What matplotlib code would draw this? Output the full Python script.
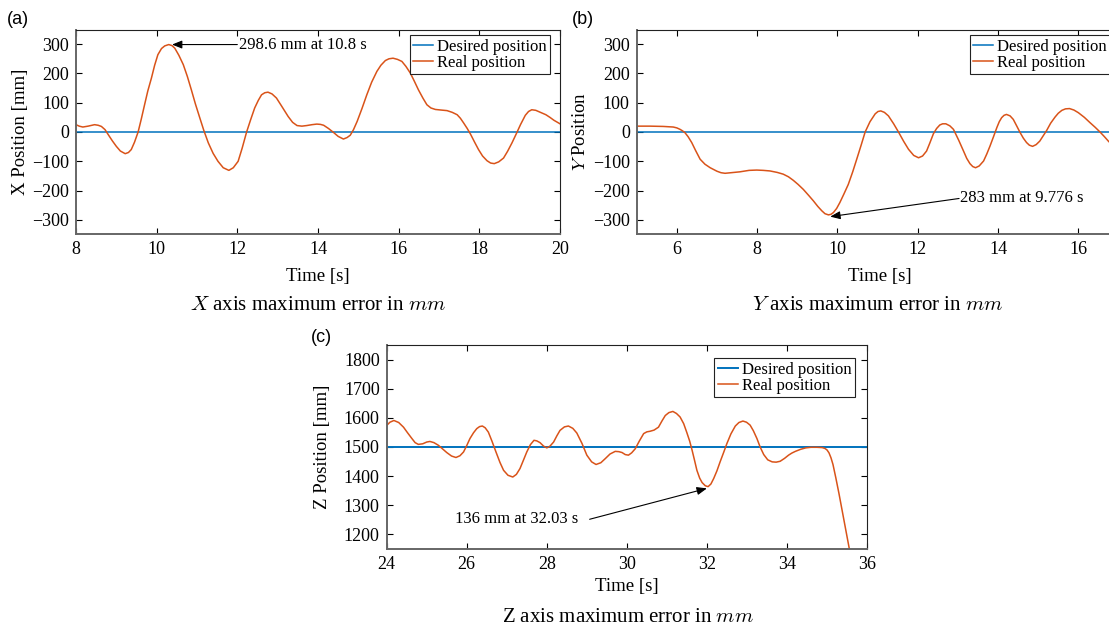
import matplotlib
matplotlib.use('Agg')
import matplotlib.pyplot as plt

# X axis run (a)
t_x = [8.00, 8.08, 8.17, 8.30, 8.46, 8.55, 8.63, 8.72, 8.79, 8.90, 9.00, 9.10,
       9.22, 9.30, 9.37, 9.45, 9.54, 9.62, 9.70, 9.78, 9.87, 9.95, 10.03, 10.12,
       10.20, 10.30, 10.38, 10.45, 10.55, 10.66, 10.76, 10.86, 10.96, 11.07,
       11.17, 11.28, 11.40, 11.52, 11.65, 11.79, 11.90, 12.02, 12.12, 12.23,
       12.33, 12.43, 12.52, 12.60, 12.68, 12.76, 12.86, 12.97, 13.10, 13.26,
       13.37, 13.48, 13.60, 13.72, 13.85, 13.97, 14.06, 14.14, 14.26, 14.38,
       14.50, 14.63, 14.72, 14.80, 14.88, 14.97, 15.09, 15.21, 15.33, 15.46,
       15.56, 15.67, 15.76, 15.86, 15.97, 16.08, 16.18, 16.29, 16.39, 16.49,
       16.60, 16.70, 16.80, 16.91, 17.05, 17.20, 17.33, 17.45, 17.53, 17.61,
       17.70, 17.78, 17.88, 17.98, 18.08, 18.19, 18.28, 18.37, 18.48, 18.60,
       18.70, 18.81, 18.92, 19.02, 19.14, 19.22, 19.30, 19.40, 19.50, 19.65,
       19.75, 19.85, 20.00]
x_real = [25, 20, 17, 20, 25, 23, 19, 8, -7, -30, -49, -65,
          -74, -70, -60, -35, 0, 45, 93, 140, 184, 228, 264, 285,
          294, 298.6, 295, 286, 262, 230, 190, 144, 96, 48,
          5, -37, -73, -100, -122, -131, -122, -100, -55, 0,
          42, 82, 108, 127, 134, 136, 130, 116, 88, 53,
          33, 22, 20, 22, 25, 27, 26, 23, 12, -1,
          -15, -24, -19, -11, 8, 36, 80, 127, 170, 207,
          228, 244, 250, 252, 248, 241, 224, 201, 173, 144,
          116, 93, 82, 77, 75, 73, 67, 59, 47, 31,
          12, -7, -34, -60, -82, -98, -106, -108, -102, -89,
          -66, -37, -5, 25, 57, 70, 76, 74, 68, 59,
          50, 40, 28]
t_x_des = [8, 20]
x_des = [0, 0]

# Y axis run (b)
t_y = [5.00, 5.33, 5.66, 5.91, 6.00, 6.08, 6.14, 6.20, 6.28, 6.37, 6.47, 6.58,
       6.70, 6.83, 7.00, 7.10, 7.20, 7.35, 7.57, 7.80, 7.99, 8.15, 8.32, 8.50,
       8.65, 8.78, 8.90, 9.02, 9.15, 9.28, 9.40, 9.51, 9.61, 9.69, 9.776, 9.84,
       9.90, 9.98, 10.06, 10.16, 10.27, 10.38, 10.48, 10.59, 10.69, 10.81,
       10.94, 11.01, 11.08, 11.17, 11.27, 11.40, 11.52, 11.65, 11.77, 11.90,
       12.02, 12.12, 12.22, 12.30, 12.39, 12.47, 12.55, 12.62, 12.70, 12.80,
       12.89, 13.02, 13.14, 13.22, 13.30, 13.37, 13.44, 13.53, 13.64, 13.72,
       13.80, 13.89, 13.97, 14.03, 14.09, 14.15, 14.21, 14.30, 14.38, 14.46,
       14.55, 14.63, 14.71, 14.78, 14.86, 14.95, 15.04, 15.12, 15.21, 15.31,
       15.42, 15.50, 15.59, 15.68, 15.78, 15.89, 16.00, 16.15, 16.29, 16.42,
       16.54, 16.65, 16.76, 16.93, 17.10]
y_real = [20, 20, 19, 17, 14, 9, 4, -2, -16, -36, -64, -93,
          -110, -122, -134, -139, -141, -139, -136, -131, -130, -131, -133, -138,
          -144, -153, -165, -179, -196, -216, -235, -254, -269, -279, -283, -281,
          -275, -261, -241, -212, -179, -136, -93, -45, 0, 35,
          62, 70, 72, 67, 55, 28, 0, -32, -59, -80,
          -88, -82, -65, -38, -6, 12, 24, 28, 28, 21,
          9, -28, -65, -90, -108, -118, -122, -116, -99, -75,
          -48, -15, 15, 35, 49, 57, 60, 55, 43, 22,
          -2, -21, -36, -45, -49, -43, -31, -14, 5, 30,
          51, 64, 74, 79, 80, 75, 66, 50, 32, 16,
          0, -16, -33, -52, -70]
t_y_des = [5, 17.1]
y_des = [0, 0]

# Z axis run (c)
t_z = [24.00, 24.08, 24.18, 24.30, 24.42, 24.52, 24.63, 24.71, 24.79, 24.90,
       25.00, 25.08, 25.18, 25.29, 25.40, 25.50, 25.62, 25.73, 25.83, 25.92,
       26.00, 26.08, 26.17, 26.25, 26.32, 26.39, 26.46, 26.54, 26.63, 26.73,
       26.83, 26.92, 27.03, 27.15, 27.24, 27.33, 27.42, 27.50, 27.59, 27.68,
       27.75, 27.83, 27.92, 28.00, 28.08, 28.17, 28.25, 28.33, 28.44, 28.54,
       28.65, 28.75, 28.88, 29.00, 29.12, 29.23, 29.35, 29.46, 29.58, 29.71,
       29.80, 29.88, 29.96, 30.04, 30.12, 30.21, 30.31, 30.42, 30.50, 30.58,
       30.68, 30.79, 30.88, 30.96, 31.05, 31.15, 31.24, 31.33, 31.42, 31.50,
       31.57, 31.63, 31.69, 31.75, 31.82, 31.88, 31.96, 32.03, 32.10, 32.17,
       32.25, 32.33, 32.42, 32.50, 32.60, 32.71, 32.80, 32.90, 32.99, 33.08,
       33.16, 33.25, 33.33, 33.42, 33.52, 33.63, 33.73, 33.83, 33.94, 34.04,
       34.12, 34.21, 34.34, 34.47, 34.60, 34.75, 34.88, 34.95, 35.00, 35.05,
       35.10, 35.15, 35.22, 35.30, 35.45, 35.60]
z_real = [1574, 1585, 1591, 1584, 1568, 1549, 1529, 1515, 1509, 1511,
          1517, 1519, 1515, 1506, 1493, 1481, 1469, 1464, 1470, 1483,
          1505, 1529, 1549, 1563, 1570, 1572, 1566, 1551, 1520, 1483,
          1447, 1420, 1403, 1397, 1406, 1426, 1456, 1483, 1508, 1523,
          1521, 1515, 1503, 1497, 1503, 1517, 1538, 1557, 1569, 1572,
          1564, 1548, 1512, 1472, 1449, 1440, 1446, 1460, 1476, 1485,
          1484, 1481, 1474, 1472, 1480, 1494, 1520, 1546, 1552, 1554,
          1558, 1568, 1590, 1608, 1618, 1622, 1615, 1603, 1580, 1549,
          1520, 1489, 1455, 1420, 1393, 1378, 1367, 1364, 1373, 1392,
          1418, 1449, 1482, 1512, 1545, 1572, 1584, 1589, 1585, 1575,
          1556, 1529, 1500, 1474, 1456, 1449, 1448, 1451, 1461, 1472,
          1479, 1485, 1492, 1497, 1499, 1499, 1498, 1495, 1490, 1480,
          1463, 1440, 1395, 1340, 1230, 1120]
t_z_des = [24, 36]
z_des = [1500, 1500]

# maximum error callouts
x_err, x_err_t = 298.6, 10.8
y_err, y_err_t = 283, 9.776
z_err, z_err_t = 136, 32.03

BLUE = '#0072BD'
ORANGE = '#D95319'

W, H = 1109, 629

plt.rcParams['font.family'] = ['Liberation Serif', 'DejaVu Serif']
plt.rcParams['mathtext.fontset'] = 'cm'


def px_axes(fig, left, top, width, height):
    return fig.add_axes([left/W, 1 - (top + height)/H, width/W, height/H])


def style_axes(ax):
    ax.tick_params(direction='in', top=True, right=True, length=4, width=0.8,
                   labelsize=13, pad=5)
    for side in ['left', 'bottom']:
        ax.spines[side].set_color('#666666')
        ax.spines[side].set_linewidth(1.4)
    for side in ['top', 'right']:
        ax.spines[side].set_color('#222222')
        ax.spines[side].set_linewidth(0.8)


def add_legend(ax, x0, y0):
    leg = ax.legend(loc='upper left', bbox_to_anchor=(x0, y0), borderaxespad=0,
                    fancybox=False, edgecolor='#222222', framealpha=1,
                    fontsize=12, handlelength=1.2, handletextpad=0.25,
                    borderpad=0.2, labelspacing=0.0)
    leg.get_frame().set_linewidth(0.8)


def callout(ax, text, tip, tail, pos, ha):
    ax.annotate('', xy=tip, xytext=tail,
                arrowprops=dict(arrowstyle='-|>,head_length=0.5,head_width=0.2',
                                color='k', lw=0.8, shrinkA=0, shrinkB=0,
                                mutation_scale=12))
    ax.text(pos[0], pos[1], text, ha=ha, va='center', fontsize=12)


def label_axes(ax, ylabel, xlab_y, ylab_x):
    ax.set_xlabel('Time [s]', fontsize=13.5)
    ax.xaxis.label.set_verticalalignment('center')
    ax.xaxis.set_label_coords(0.5, xlab_y)
    ax.set_ylabel(ylabel, fontsize=13.5)
    ax.yaxis.label.set_verticalalignment('center')
    ax.yaxis.set_label_coords(ylab_x, 0.5)


def main():
    fig = plt.figure(figsize=(W/100, H/100), dpi=100)

    # (a) X axis
    ax = px_axes(fig, 76, 29.5, 484, 205)
    ax.plot(t_x_des, x_des, color=BLUE, lw=1.1, label='Desired position')
    ax.plot(t_x, x_real, color=ORANGE, lw=1.1, label='Real position')
    ax.set_xlim(8, 20)
    ax.set_ylim(-350, 350)
    ax.set_xticks(range(8, 21, 2))
    ax.set_yticks(range(-300, 301, 100))
    style_axes(ax)
    label_axes(ax, 'X Position [mm]', -0.206, -0.1157)
    add_legend(ax, 0.690, 0.9717)
    callout(ax, f'{x_err} mm at {x_err_t} s', (10.38, x_err), (12.0, x_err),
            (12.03, x_err), 'left')

    # (b) Y axis
    ax = px_axes(fig, 636.7, 29.5, 485.8, 205)
    ax.plot(t_y_des, y_des, color=BLUE, lw=1.1, label='Desired position')
    ax.plot(t_y, y_real, color=ORANGE, lw=1.1, label='Real position')
    ax.set_xlim(5, 17.1)
    ax.set_ylim(-350, 350)
    ax.set_xticks(range(6, 17, 2))
    ax.set_yticks(range(-300, 301, 100))
    style_axes(ax)
    label_axes(ax, '$Y$ Position', -0.206, -0.1147)
    add_legend(ax, 0.686, 0.9717)
    callout(ax, f'{y_err} mm at {y_err_t} s', (9.82, -289), (13.03, -227),
            (13.05, -227), 'left')

    # (c) Z axis
    ax = px_axes(fig, 386.7, 345, 480.3, 204)
    ax.plot(t_z_des, z_des, color=BLUE, lw=1.4, label='Desired position')
    ax.plot(t_z, z_real, color=ORANGE, lw=1.1, label='Real position')
    ax.set_xlim(24, 36)
    ax.set_ylim(1150, 1850)
    ax.set_xticks(range(24, 37, 2))
    ax.set_yticks(range(1200, 1801, 100))
    style_axes(ax)
    label_axes(ax, 'Z Position [mm]', -0.185, -0.1337)
    add_legend(ax, 0.682, 0.935)
    callout(ax, f'{z_err} mm at {z_err_t} s', (32.0, 1358), (29.07, 1252),
            (28.79, 1252), 'right')

    # panel tags and captions
    for txt, x, y in [('(a)', 7, 20), ('(b)', 572, 20), ('(c)', 311, 337)]:
        fig.text(x/W, 1 - y/H, txt, ha='left', va='center', fontsize=13,
                 family=['Liberation Sans', 'DejaVu Sans'])
    for txt, x, y in [('$X$ axis maximum error in $mm$', 318, 306),
                      ('$Y$ axis maximum error in $mm$', 878, 306),
                      ('Z axis maximum error in $mm$', 628, 618)]:
        fig.text(x/W, 1 - y/H, txt, ha='center', va='center', fontsize=15)

    fig.savefig('out.png', dpi=100)


if __name__ == "__main__":
    main()
